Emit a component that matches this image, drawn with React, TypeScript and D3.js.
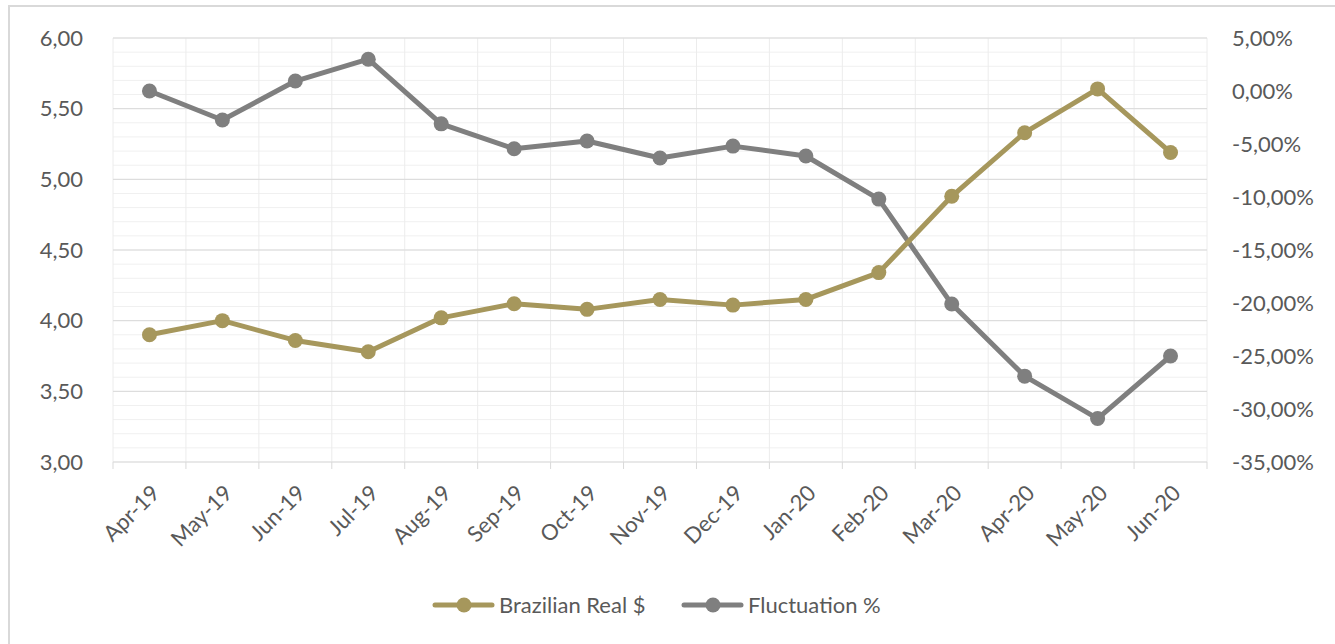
import { useEffect, useRef } from 'react';
import { select, scaleLinear, scaleBand, line, range } from 'd3';

const width = 1335;
const height = 644;
const margin = { top: 38, bottom: 182, left: 113, right: 128 };

const months = [
  'Apr-19', 'May-19', 'Jun-19', 'Jul-19', 'Aug-19', 'Sep-19', 'Oct-19', 'Nov-19',
  'Dec-19', 'Jan-20', 'Feb-20', 'Mar-20', 'Apr-20', 'May-20', 'Jun-20',
];
const realValues = [3.9, 4.0, 3.86, 3.78, 4.02, 4.12, 4.08, 4.15, 4.11, 4.15, 4.34, 4.88, 5.33, 5.64, 5.19];
const fluctuation = [0.0, -2.74, 0.94, 3.0, -3.1, -5.45, -4.72, -6.32, -5.2, -6.13, -10.2, -20.1, -26.9, -30.9, -25.0];
const leftTicks = [3.0, 3.5, 4.0, 4.5, 5.0, 5.5, 6.0];
const rightTicks = [-35, -30, -25, -20, -15, -10, -5, 0, 5];

const GOLD = '#a6975c';
const GRAY = '#7f7f7f';
const TEXT = '#595959';
const FONT = 'Lato, "Open Sans", sans-serif';
const FS = '22px';

const fmt = (v: number, d: number) => v.toFixed(d).replace('.', ',');

function App() {
  const ref = useRef<SVGSVGElement>(null);

  useEffect(() => {
    const svg = select(ref.current);
    svg.selectAll('*').remove();

    const x = scaleBand().domain(months).range([margin.left, width - margin.right]);
    const yL = scaleLinear().domain([3, 6]).range([height - margin.bottom, margin.top]);
    const yR = scaleLinear().domain([-35, 5]).range([height - margin.bottom, margin.top]);
    const cx = (m: string) => (x(m) as number) + x.bandwidth() / 2;
    const x0 = margin.left;
    const x1 = width - margin.right;
    const yBottom = height - margin.bottom;

    // chart border
    svg
      .append('rect')
      .attr('x', 9)
      .attr('y', 6)
      .attr('width', width + 20)
      .attr('height', height + 20)
      .attr('fill', 'white')
      .attr('stroke', '#d9d9d9')
      .attr('stroke-width', 2);

    // minor gridlines
    svg
      .selectAll('line.minor')
      .data(range(30, 61).map((d) => d / 10))
      .join('line')
      .attr('x1', x0)
      .attr('x2', x1)
      .attr('y1', (d) => yL(d))
      .attr('y2', (d) => yL(d))
      .attr('stroke', '#f0f0f0')
      .attr('stroke-width', 1);

    // vertical gridlines
    svg
      .selectAll('line.vgrid')
      .data(months.concat(['end']))
      .join('line')
      .attr('x1', (d, i) => x0 + i * x.step())
      .attr('x2', (d, i) => x0 + i * x.step())
      .attr('y1', margin.top)
      .attr('y2', yBottom)
      .attr('stroke', '#ececec')
      .attr('stroke-width', 1);

    // major gridlines
    svg
      .selectAll('line.major')
      .data(leftTicks)
      .join('line')
      .attr('x1', x0)
      .attr('x2', x1)
      .attr('y1', (d) => yL(d))
      .attr('y2', (d) => yL(d))
      .attr('stroke', '#d9d9d9')
      .attr('stroke-width', 1);

    // x tick marks
    svg
      .selectAll('line.xtick')
      .data(months.concat(['end']))
      .join('line')
      .attr('x1', (d, i) => x0 + i * x.step())
      .attr('x2', (d, i) => x0 + i * x.step())
      .attr('y1', yBottom)
      .attr('y2', yBottom + 7)
      .attr('stroke', '#d9d9d9')
      .attr('stroke-width', 1);

    // left labels
    svg
      .selectAll('text.left')
      .data(leftTicks)
      .join('text')
      .attr('x', 83)
      .attr('y', (d) => yL(d))
      .attr('dy', '0.35em')
      .attr('text-anchor', 'end')
      .attr('fill', TEXT)
      .style('font-family', FONT)
      .style('font-size', FS)
      .text((d) => fmt(d, 2));

    // right labels
    svg
      .selectAll('text.right')
      .data(rightTicks)
      .join('text')
      .attr('x', 1232)
      .attr('y', (d) => yR(d))
      .attr('dy', '0.35em')
      .attr('text-anchor', 'start')
      .attr('fill', TEXT)
      .style('font-family', FONT)
      .style('font-size', FS)
      .text((d) => fmt(d, 2) + '%');

    // x labels
    svg
      .selectAll('text.xlab')
      .data(months)
      .join('text')
      .attr('transform', (d) => `translate(${cx(d) + 6},${yBottom + 27}) rotate(-45)`)
      .attr('text-anchor', 'end')
      .attr('dy', '0.35em')
      .attr('fill', TEXT)
      .style('font-family', FONT)
      .style('font-size', FS)
      .text((d) => d);

    const series = [
      { name: 'Fluctuation %', color: GRAY, vals: fluctuation, y: yR },
      { name: 'Brazilian Real $', color: GOLD, vals: realValues, y: yL },
    ];

    series.forEach((s) => {
      const gen = line<number>()
        .x((d, i) => cx(months[i]))
        .y((d) => s.y(d));
      svg
        .append('path')
        .attr('d', gen(s.vals))
        .attr('fill', 'none')
        .attr('stroke', s.color)
        .attr('stroke-width', 5)
        .attr('stroke-linejoin', 'round');
      svg
        .append('g')
        .selectAll('circle')
        .data(s.vals)
        .join('circle')
        .attr('cx', (d, i) => cx(months[i]))
        .attr('cy', (d) => s.y(d))
        .attr('r', 7.5)
        .attr('fill', s.color);
    });

    // legend
    const legend = [
      { name: 'Brazilian Real $', color: GOLD, x: 435 },
      { name: 'Fluctuation %', color: GRAY, x: 684 },
    ];
    const ly = 605;
    legend.forEach((l) => {
      const g = svg.append('g');
      g.append('line')
        .attr('x1', l.x)
        .attr('x2', l.x + 57)
        .attr('y1', ly)
        .attr('y2', ly)
        .attr('stroke', l.color)
        .attr('stroke-width', 5)
        .attr('stroke-linecap', 'round');
      g.append('circle').attr('cx', l.x + 29).attr('cy', ly).attr('r', 7.5).attr('fill', l.color);
      g.append('text')
        .attr('x', l.x + 64)
        .attr('y', ly)
        .attr('dy', '0.35em')
        .attr('fill', TEXT)
        .style('font-family', FONT)
        .style('font-size', FS)
        .text(l.name);
    });
  }, []);

  return (
    <svg
      ref={ref}
      width={width}
      height={height}
      style={{ position: 'absolute', left: 0, top: 0, background: 'white' }}
    />
  );
}

export default App;
